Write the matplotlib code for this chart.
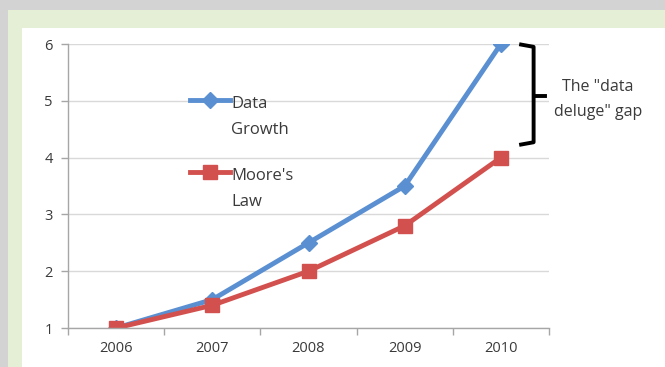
import numpy as np
import matplotlib
matplotlib.use("Agg")
from matplotlib import pyplot as plt
from matplotlib.patches import Rectangle
from matplotlib.lines import Line2D

years = ['2006', '2007', '2008', '2009', '2010']
data_growth = [1.0, 1.5, 2.5, 3.5, 6.0]
moores_law = [1.0, 1.4, 2.0, 2.8, 4.0]
y_ticks = [1, 2, 3, 4, 5, 6]

blue = '#5A8FD2'
red = '#D2514E'
txt = '#3a3a3a'
grid_c = '#d9d9d9'

plt.rcParams['font.family'] = ['Open Sans', 'DejaVu Sans']

fig = plt.figure(figsize=(6.65, 3.67), dpi=100)
fig.patch.set_facecolor('#d3d3d3')
# green frame and white slide area
fig.patches.append(Rectangle((8/665, 0), 1, 1 - 10/367, transform=fig.transFigure,
                             facecolor='#e5efd5', edgecolor='none', zorder=-2))
fig.patches.append(Rectangle((22/665, 0), 1, 1 - 28/367, transform=fig.transFigure,
                             facecolor='white', edgecolor='none', zorder=-1))

ax = fig.add_axes([68/665, 1 - 328/367, (549 - 68)/665, (328 - 44)/367])
ax.set_facecolor('none')
x = np.arange(len(years))

ax.plot(x, data_growth, color=blue, lw=3.5, marker='D', ms=8, zorder=3)
ax.plot(x, moores_law, color=red, lw=3.5, marker='s', ms=10, zorder=4)

ax.set_xlim(-0.5, len(years) - 0.5)
ax.set_ylim(1, 6)
ax.set_yticks(y_ticks)
ax.set_xticks(x)
ax.set_xticklabels(years)
ax.set_xticks(np.arange(-0.5, len(years), 1), minor=True)
ax.tick_params(axis='x', which='major', length=0, pad=9, labelsize=10.5, colors=txt)
ax.tick_params(axis='x', which='minor', length=5, color='#a6a6a6', width=1)
ax.tick_params(axis='y', length=5, color='#a6a6a6', width=1, pad=6, labelsize=10.5, labelcolor=txt)
ax.grid(axis='y', color=grid_c, lw=1)
ax.set_axisbelow(True)
for s in ['top', 'right']:
    ax.spines[s].set_visible(False)
for s in ['left', 'bottom']:
    ax.spines[s].set_color('#a6a6a6')
    ax.spines[s].set_linewidth(1)
ax.spines['bottom'].set_zorder(5)

# legend drawn by hand so the key sits on the first text line
legend_items = [('Data\nGrowth', blue, 'D', 8, 0.803), ("Moore's\nLaw", red, 's', 10, 0.549)]
for label, col, mk, ms, ly in legend_items:
    ax.add_line(Line2D([0.254, 0.337], [ly, ly], color=col, lw=3.5,
                       transform=ax.transAxes, clip_on=False))
    ax.add_line(Line2D([0.295], [ly], color=col, marker=mk, ms=ms,
                       transform=ax.transAxes, clip_on=False))
    ax.text(0.339, ly + 0.014, label, transform=ax.transAxes, ha='left', va='top',
            fontsize=12, color=txt, linespacing=1.85)

# bracket marking the gap
bx0, bx1, btip = 4.21, 4.34, 4.46
top, bot, mid = 5.99, 4.23, 5.08
ax.plot([bx0, bx1, bx1, bx0], [top, top - 0.04, bot + 0.04, bot], color='black',
        lw=2.8, clip_on=False, solid_joinstyle='round', zorder=6)
ax.plot([bx1, btip], [mid, mid], color='black', lw=2.8, clip_on=False, zorder=6)
ax.text(5.01, 5.02, 'The "data\ndeluge" gap', ha='center', va='center',
        fontsize=11.5, color=txt, linespacing=1.75, clip_on=False)

fig.savefig('out.png', dpi=100)
